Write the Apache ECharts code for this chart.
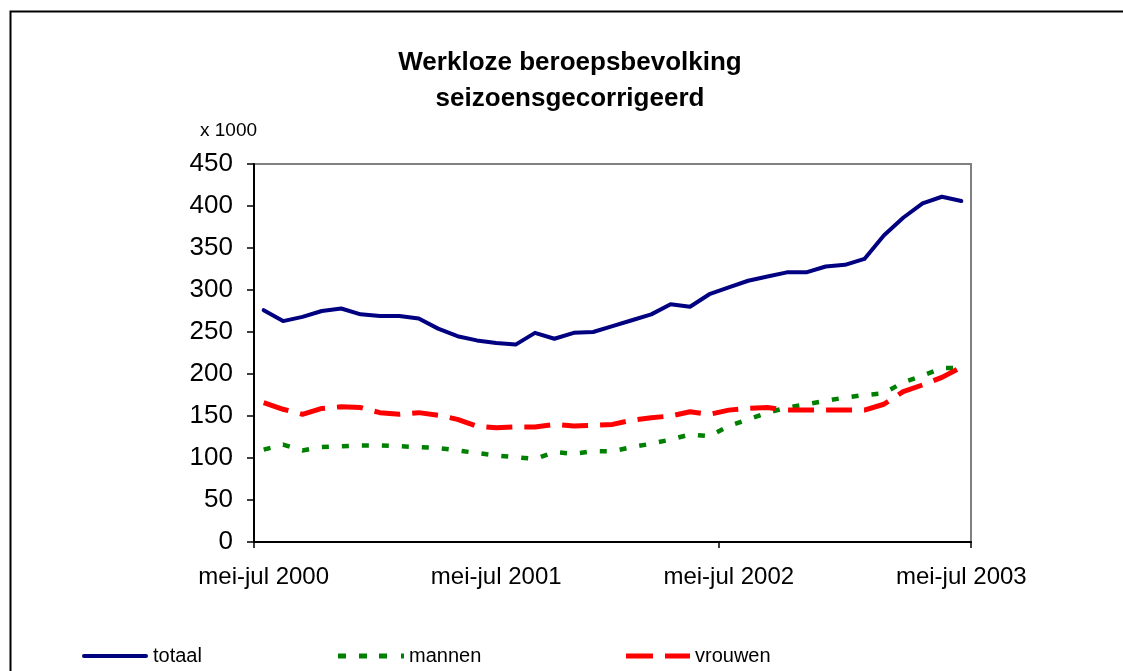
<!DOCTYPE html>
<html>
<head>
<meta charset="utf-8">
<script src="https://cdn.jsdelivr.net/npm/echarts@6/dist/echarts.min.js"></script>
<style>html,body{margin:0;padding:0;background:#fff}#c{width:1123px;height:671px}</style>
</head>
<body>
<div id="c"></div>
<script>
var categories = [
 "mei-jul 2000","jun-aug 2000","jul-sep 2000","aug-okt 2000","sep-nov 2000","okt-dec 2000",
 "nov-jan 2001","dec-feb 2001","jan-mrt 2001","feb-apr 2001","mrt-mei 2001","apr-jun 2001",
 "mei-jul 2001","jun-aug 2001","jul-sep 2001","aug-okt 2001","sep-nov 2001","okt-dec 2001",
 "nov-jan 2002","dec-feb 2002","jan-mrt 2002","feb-apr 2002","mrt-mei 2002","apr-jun 2002",
 "mei-jul 2002","jun-aug 2002","jul-sep 2002","aug-okt 2002","sep-nov 2002","okt-dec 2002",
 "nov-jan 2003","dec-feb 2003","jan-mrt 2003","feb-apr 2003","mrt-mei 2003","apr-jun 2003",
 "mei-jul 2003"
];
var totaal = [276,263,268,275,278,271,269,269,266,254,245,240,237,235,249,242,249,
              250,257,264,271,283,280,295,303,311,316,321,321,328,330,337,365,386,403,411,406];
var mannen = [110,116,109,113,114,115,115,114,113,112,109,106,103,101,99,107,105,
              108,108,113,117,122,128,126,138,146,154,160,164,168,172,175,177,190,198,207,207];
var vrouwen = [166,158,152,159,161,160,154,152,154,151,146,138,136,137,137,140,138,
               139,140,145,148,150,155,152,157,159,160,157,157,157,157,157,164,179,187,196,208];
var yTicks = [0,50,100,150,200,250,300,350,400,450];

var chart = echarts.init(document.getElementById('c'));
var font = 'Liberation Sans, Arial, sans-serif';
function legendAt(name, left, icon, w, h) {
  return {
    data: [{ name: name, icon: icon }], left: left, top: 641, orient: 'horizontal',
    itemWidth: w, itemHeight: h, itemGap: 5,
    textStyle: { fontFamily: font, fontSize: 20, color: '#000' },
    selectedMode: false
  };
}
chart.setOption({
  animation: false,
  backgroundColor: '#fff',
  graphic: [
    { type: 'rect', shape: { x: 10.5, y: 11.5, width: 1200, height: 800 },
      style: { fill: 'none', stroke: '#000', lineWidth: 2 }, silent: true, z: 0 },
    { type: 'text', x: 570, y: 63, style: { text: 'Werkloze beroepsbevolking', fontFamily: font,
      fontSize: 26, fontWeight: 'bold', fill: '#000', textAlign: 'center', textVerticalAlign: 'middle' } },
    { type: 'text', x: 570, y: 99, style: { text: 'seizoensgecorrigeerd', fontFamily: font,
      fontSize: 26, fontWeight: 'bold', fill: '#000', textAlign: 'center', textVerticalAlign: 'middle' } },
    { type: 'text', x: 200, y: 131, style: { text: 'x 1000', fontFamily: font,
      fontSize: 19, fill: '#000', textAlign: 'left', textVerticalAlign: 'middle' } }
  ],
  legend: [
    legendAt('totaal', 77, 'path://M2 0h62a2 2 0 0 1 0 4h-62a2 2 0 0 1 0-4z', 66, 4),
    legendAt('mannen', 333, 'path://M0 0h8v5h-8zM21 0h8v5h-8zM41 0h8v5h-8zM63 0h3v5h-3z', 66, 5),
    legendAt('vrouwen', 621, 'path://M0 0h27v5h-27zM39 0h25v5h-25z', 64, 5)
  ],
  grid: { left: 254, top: 164, right: 152, bottom: 129, show: true,
          borderColor: '#808080', borderWidth: 2, backgroundColor: 'transparent' },
  xAxis: {
    type: 'category', data: categories, boundaryGap: true,
    axisLine: { lineStyle: { color: '#000', width: 2 } },
    axisTick: { show: true, interval: 23, length: 6, lineStyle: { color: '#000', width: 1.5 } },
    axisLabel: { interval: 11, margin: 23, fontFamily: font, fontSize: 24, color: '#000' },
    splitLine: { show: false }
  },
  yAxis: {
    type: 'value', min: 0, max: 450, interval: 50,
    axisLine: { show: true, lineStyle: { color: '#000', width: 2 } },
    axisTick: { show: true, length: 7, lineStyle: { color: '#000', width: 1.5 } },
    axisLabel: { margin: 21, fontFamily: font, fontSize: 26, color: '#000',
                 formatter: function (v) { return yTicks.indexOf(v) >= 0 ? String(v) : ''; } },
    splitLine: { show: false }
  },
  series: [
    { name: 'totaal', type: 'line', data: totaal, symbol: 'none', smooth: false,
      itemStyle: { color: '#000080' },
      lineStyle: { color: '#000080', width: 4, cap: 'round', join: 'round' } },
    { name: 'mannen', type: 'line', data: mannen, symbol: 'none', smooth: false,
      itemStyle: { color: '#008000' },
      lineStyle: { color: '#008000', width: 4.5, type: [7, 13], cap: 'butt' } },
    { name: 'vrouwen', type: 'line', data: vrouwen, symbol: 'none', smooth: false,
      itemStyle: { color: '#ff0000' },
      lineStyle: { color: '#ff0000', width: 5, type: [26, 12], cap: 'butt' } }
  ]
});
</script>
</body>
</html>
